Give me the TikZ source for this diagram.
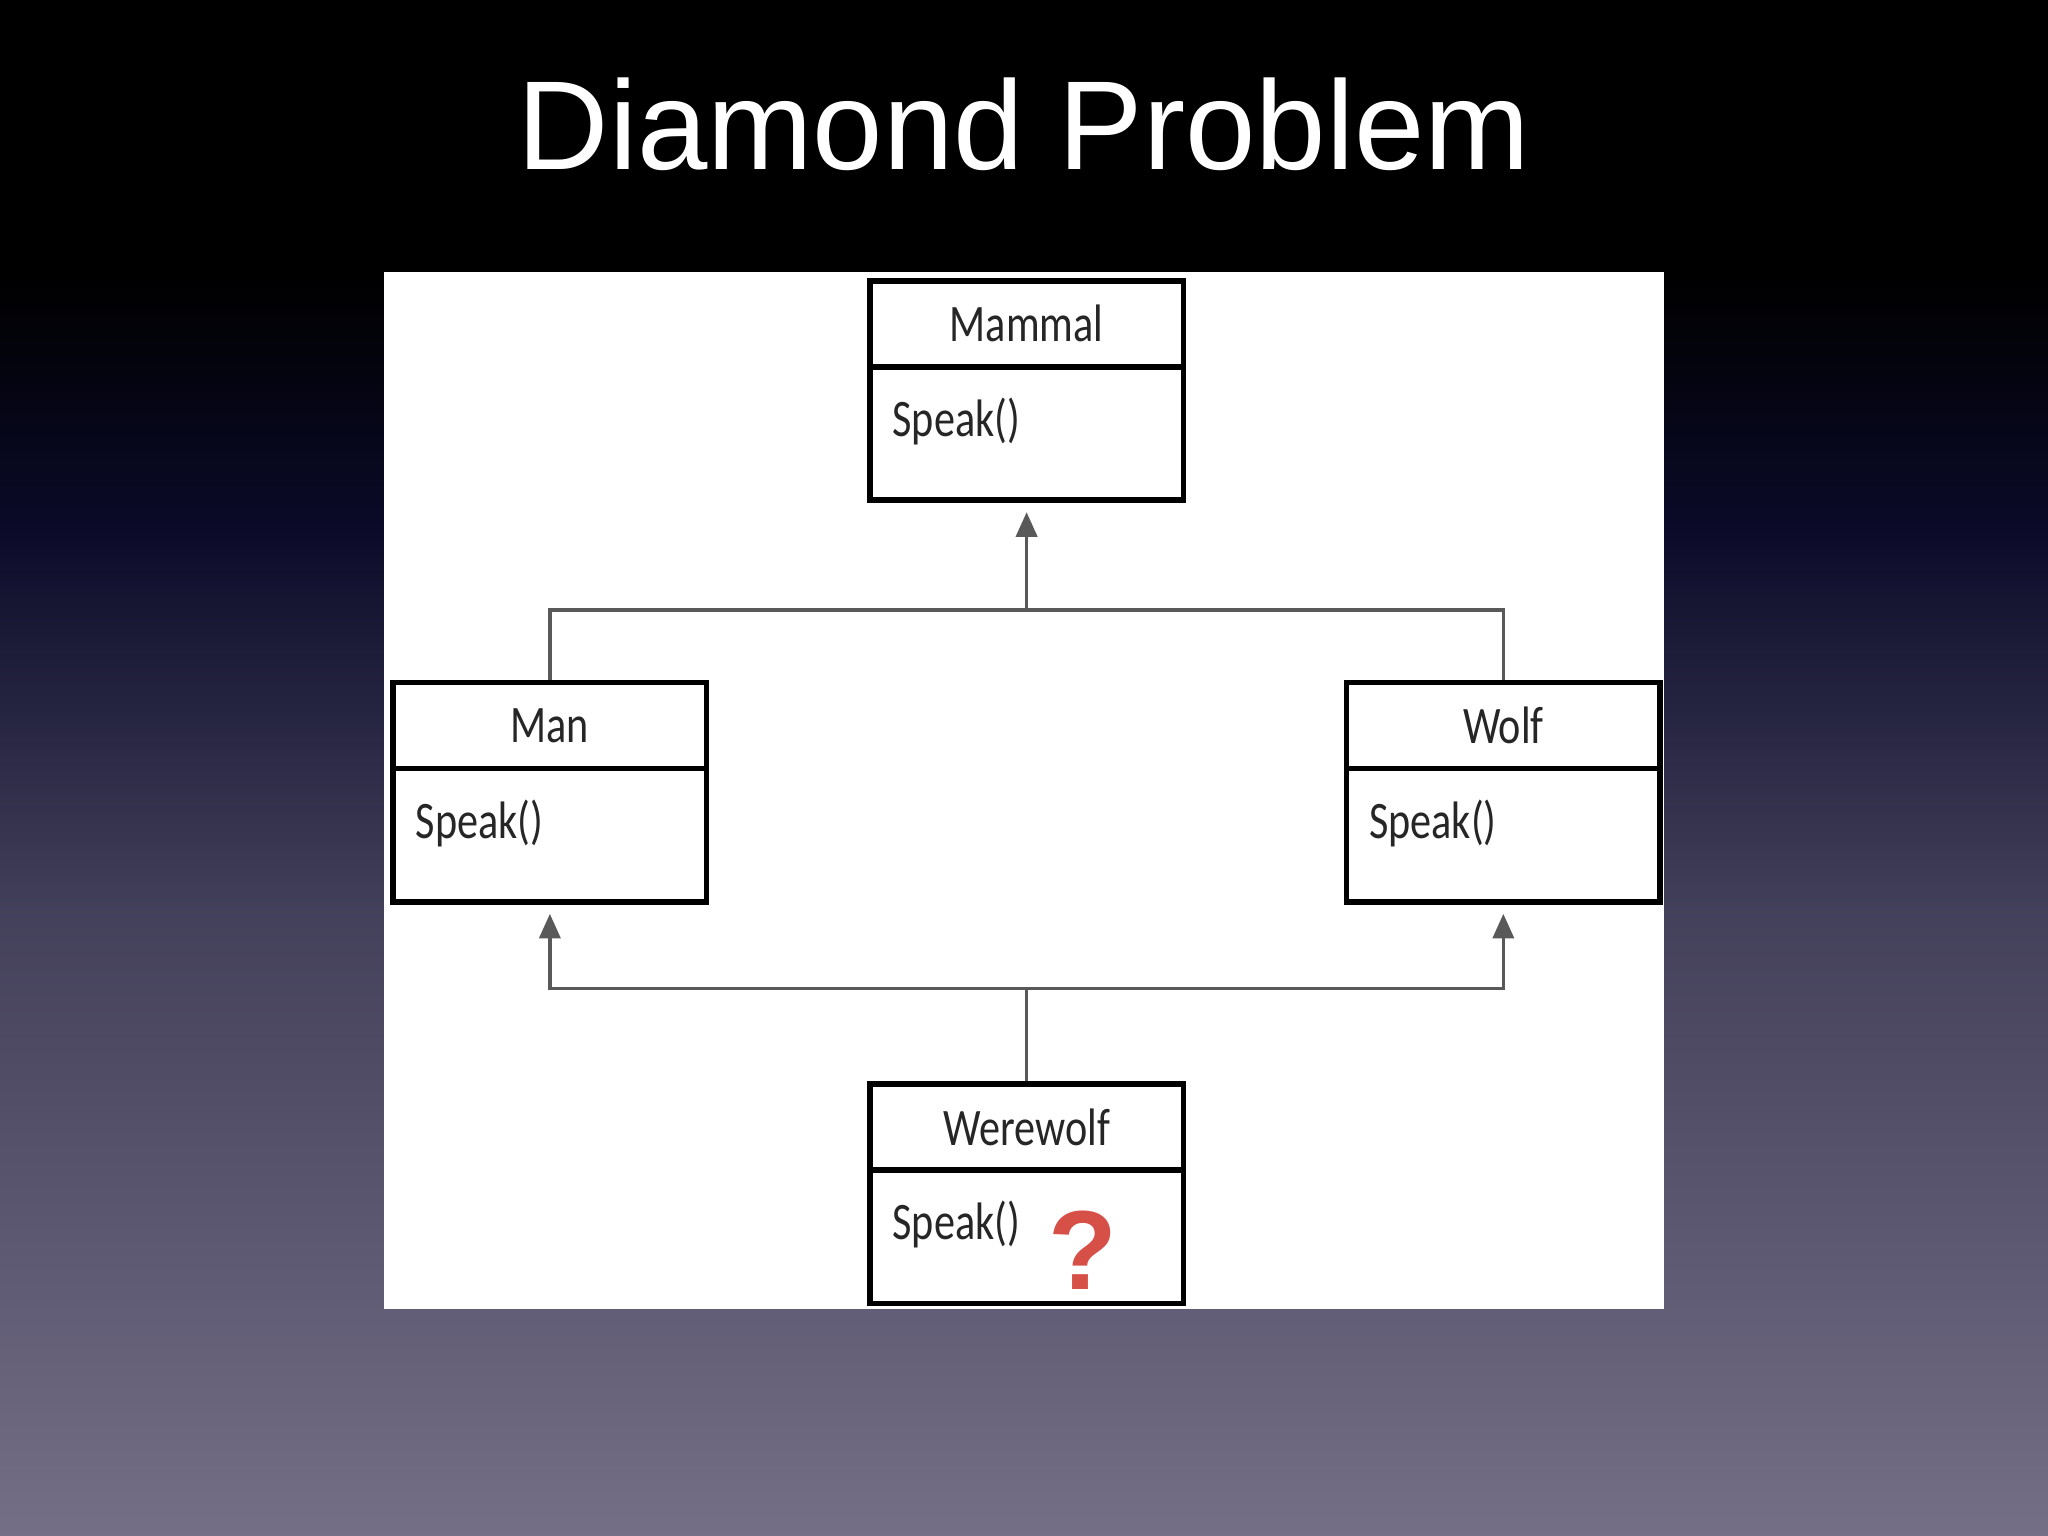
\documentclass[tikz,border=0pt]{standalone}
\usepackage{fontspec}
\setmainfont{Liberation Sans}
\newfontfamily\boxfont[FakeStretch=0.8]{Carlito}
\usetikzlibrary{positioning,arrows.meta}
\definecolor{bgtop}{RGB}{0,0,0}
\definecolor{bgmid}{RGB}{10,10,40}
\definecolor{bgbot}{RGB}{116,110,134}
\definecolor{qred}{RGB}{214,80,72}
\pgfdeclareverticalshading{slidebg}{100bp}{color(0bp)=(bgbot); color(25bp)=(bgbot); color(45bp)=(bgmid!45!bgbot); color(58bp)=(bgmid); color(66bp)=(bgtop); color(100bp)=(bgtop)}
\tikzset{
  classbox/.style={draw=black, line width=1.6pt, minimum width=240*0.01306cm, minimum height=168*0.01306cm, inner sep=0pt},
  classname/.style={font=\boxfont\fontsize{15}{18}\selectfont, text=black!85},
  member/.style={font=\boxfont\fontsize{15}{18}\selectfont, text=black!85, anchor=west},
  link/.style={draw=black!65, line width=1pt},
  inherit/.style={link, -{Triangle[length=7pt,width=6pt]}}
}
\begin{document}
\begin{tikzpicture}[x=0.01306cm, y=-0.01306cm]
    % slide background
    \useasboundingbox (0,0) rectangle (1568,1176);
    \shade[shading=slidebg] (0,0) rectangle (1568,1176);

    % title
    \node[text=white, font=\fontsize{36}{40}\selectfont] (title) at (784,95) {Diamond Problem};

    % white panel
    \fill[white] (294,208) rectangle (1274,1002);

    % class boxes
    \node[classbox] (mammal) at (786,299) {};
    \node[classbox] (man) at (421,606.5) {};
    \node[classbox] (wolf) at (1151,606.5) {};
    \node[classbox] (werewolf) at (786,914) {};

    % dividers and texts
    \foreach \b/\n in {mammal/Mammal, man/Man, wolf/Wolf, werewolf/Werewolf} {
        \draw[line width=1.6pt] ([yshift=-68*0.01306cm]\b.north west) -- ([yshift=-68*0.01306cm]\b.north east);
        \node[classname] at ([yshift=-35*0.01306cm]\b.north) {\n};
        \node[member] at ([xshift=10*0.01306cm, yshift=-110*0.01306cm]\b.north west) {Speak()};
    }

    % question mark
    \node[text=qred, font=\bfseries\fontsize{32}{36}\selectfont] (qmark) at (829,957) {?};

    % upper inheritance
    \coordinate (topjoin) at (786,467);
    \draw[link] (man.north) |- (wolf.north |- topjoin) -- (wolf.north);
    \draw[inherit] (topjoin) -- ([yshift=-7*0.01306cm]mammal.south);

    % lower inheritance
    \coordinate (botjoin) at (786,757);
    \draw[link] (werewolf.north) -- (botjoin);
    \draw[inherit] (botjoin) -| ([yshift=-7*0.01306cm]man.south);
    \draw[inherit] (botjoin) -| ([yshift=-7*0.01306cm]wolf.south);
\end{tikzpicture}
\end{document}
